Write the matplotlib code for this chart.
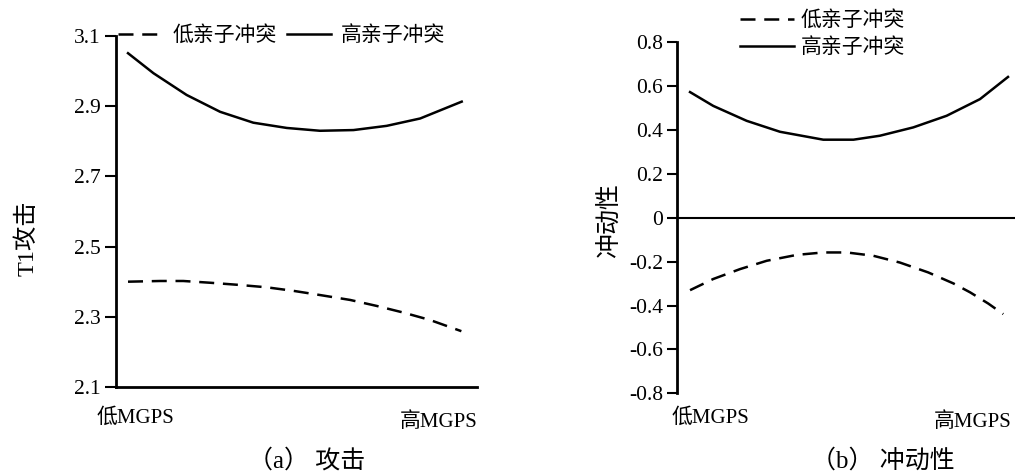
import matplotlib
matplotlib.use("Agg")
import matplotlib.pyplot as plt

plt.rcParams["font.family"] = ["Liberation Serif", "Noto Sans CJK SC"]
plt.rcParams["axes.unicode_minus"] = False

# MGPS level (0 = low, 1 = high)
# (a) aggression
agg_low_x = [0.0, 0.096, 0.165, 0.245, 0.329, 0.414, 0.493, 0.573, 0.663, 0.742, 0.822, 0.901, 0.995]
agg_low = [2.400, 2.402, 2.402, 2.397, 2.391, 2.384, 2.374, 2.362, 2.348, 2.331, 2.312, 2.291, 2.259]
agg_high_x = [0.0, 0.076, 0.175, 0.275, 0.374, 0.474, 0.573, 0.673, 0.772, 0.872, 0.996]
agg_high = [3.051, 2.994, 2.932, 2.884, 2.853, 2.838, 2.830, 2.832, 2.844, 2.865, 2.913]
agg_ticks = [2.1, 2.3, 2.5, 2.7, 2.9, 3.1]
agg_ticklabels = ["2.1", "2.3", "2.5", "2.7", "2.9", "3.1"]

# (b) impulsivity
imp_low_x = [0.0, 0.073, 0.157, 0.241, 0.336, 0.419, 0.493, 0.576, 0.660, 0.749, 0.828, 0.881, 0.938, 0.985]
imp_low = [-0.330, -0.279, -0.234, -0.196, -0.169, -0.158, -0.158, -0.173, -0.204, -0.249, -0.299, -0.340, -0.391, -0.439]
imp_high_x = [0.0, 0.073, 0.178, 0.283, 0.419, 0.514, 0.597, 0.702, 0.807, 0.912, 1.0]
imp_high = [0.573, 0.510, 0.442, 0.392, 0.356, 0.356, 0.374, 0.412, 0.465, 0.541, 0.642]
imp_ticks = [-0.8, -0.6, -0.4, -0.2, 0, 0.2, 0.4, 0.6, 0.8]
imp_ticklabels = ["-0.8", "-0.6", "-0.4", "-0.2", "0", "0.2", "0.4", "0.6", "0.8"]

series_names = ["低亲子冲突", "高亲子冲突"]
x_ends = ["低MGPS", "高MGPS"]

fig = plt.figure(figsize=(10.15, 4.75), dpi=100)
ax1 = fig.add_axes([0.1143, 0.1853, 0.3557, 0.7389])
ax2 = fig.add_axes([0.667, 0.172, 0.333, 0.739])

lw = 1.8
dash = (6, 3.5)
fs = 15.5

# ---- panel a
ax1.plot(agg_low_x, agg_low, color="black", lw=lw, dashes=dash, label=series_names[0])
ax1.plot(agg_high_x, agg_high, color="black", lw=lw, label=series_names[1])
ax1.set_xlim(-0.0358, 1.0418)
ax1.set_ylim(2.1, 3.1)
ax1.set_yticks(agg_ticks)
ax1.set_yticklabels(agg_ticklabels)
ax1.set_xticks([])
for s in ["top", "right"]:
    ax1.spines[s].set_visible(False)
for s in ["left", "bottom"]:
    ax1.spines[s].set_linewidth(2)
ax1.tick_params(axis="y", direction="out", length=8, width=1.5, labelsize=fs, pad=3)
ax1.text(-0.053, -0.088, x_ends[0], transform=ax1.transAxes, ha="left", va="center", fontsize=15)
ax1.text(1.0, -0.10, x_ends[1], transform=ax1.transAxes, ha="right", va="center", fontsize=15)
fig.text(0.027, 1 - 238 / 475, "T1攻击", rotation=90, ha="center", va="center", fontsize=17.5)
ax1.legend(loc="center left", bbox_to_anchor=(118 / 1015, 1 - 36 / 475),
           bbox_transform=fig.transFigure, ncol=2, frameon=False, fontsize=15,
           handlelength=2.1, handletextpad=0.5, columnspacing=0.5, borderpad=0,
           borderaxespad=0)

# ---- panel b
ax2.plot(imp_low_x, imp_low, color="black", lw=lw, dashes=dash, label=series_names[0])
ax2.plot(imp_high_x, imp_high, color="black", lw=lw, label=series_names[1])
ax2.axhline(0, color="black", lw=1.5)
ax2.set_xlim(-0.041, 1.022)
ax2.set_ylim(-0.8, 0.8)
ax2.set_yticks(imp_ticks)
ax2.set_yticklabels(imp_ticklabels)
ax2.set_xticks([])
for s in ["top", "right", "bottom"]:
    ax2.spines[s].set_visible(False)
ax2.spines["left"].set_linewidth(2)
ax2.tick_params(axis="y", direction="out", length=7, width=1.5, labelsize=fs, pad=3)
ax2.text(-0.015, -0.070, x_ends[0], transform=ax2.transAxes, ha="left", va="center", fontsize=15)
ax2.text(0.991, -0.082, x_ends[1], transform=ax2.transAxes, ha="right", va="center", fontsize=15)
fig.text(0.601, 1 - 221 / 475, "冲动性", rotation=90, ha="center", va="center", fontsize=18)
ax2.legend(loc="center left", bbox_to_anchor=(740 / 1015, 1 - 35 / 475),
           bbox_transform=fig.transFigure, ncol=1, frameon=False, fontsize=15,
           handlelength=2.6, handletextpad=0.3, labelspacing=0.35, borderpad=0,
           borderaxespad=0)

fig.text(0.3025, 0.031, "（a） 攻击", ha="center", va="center", fontsize=18)
fig.text(0.870, 0.031, "（b） 冲动性", ha="center", va="center", fontsize=18)

fig.savefig("out.png", dpi=100)
